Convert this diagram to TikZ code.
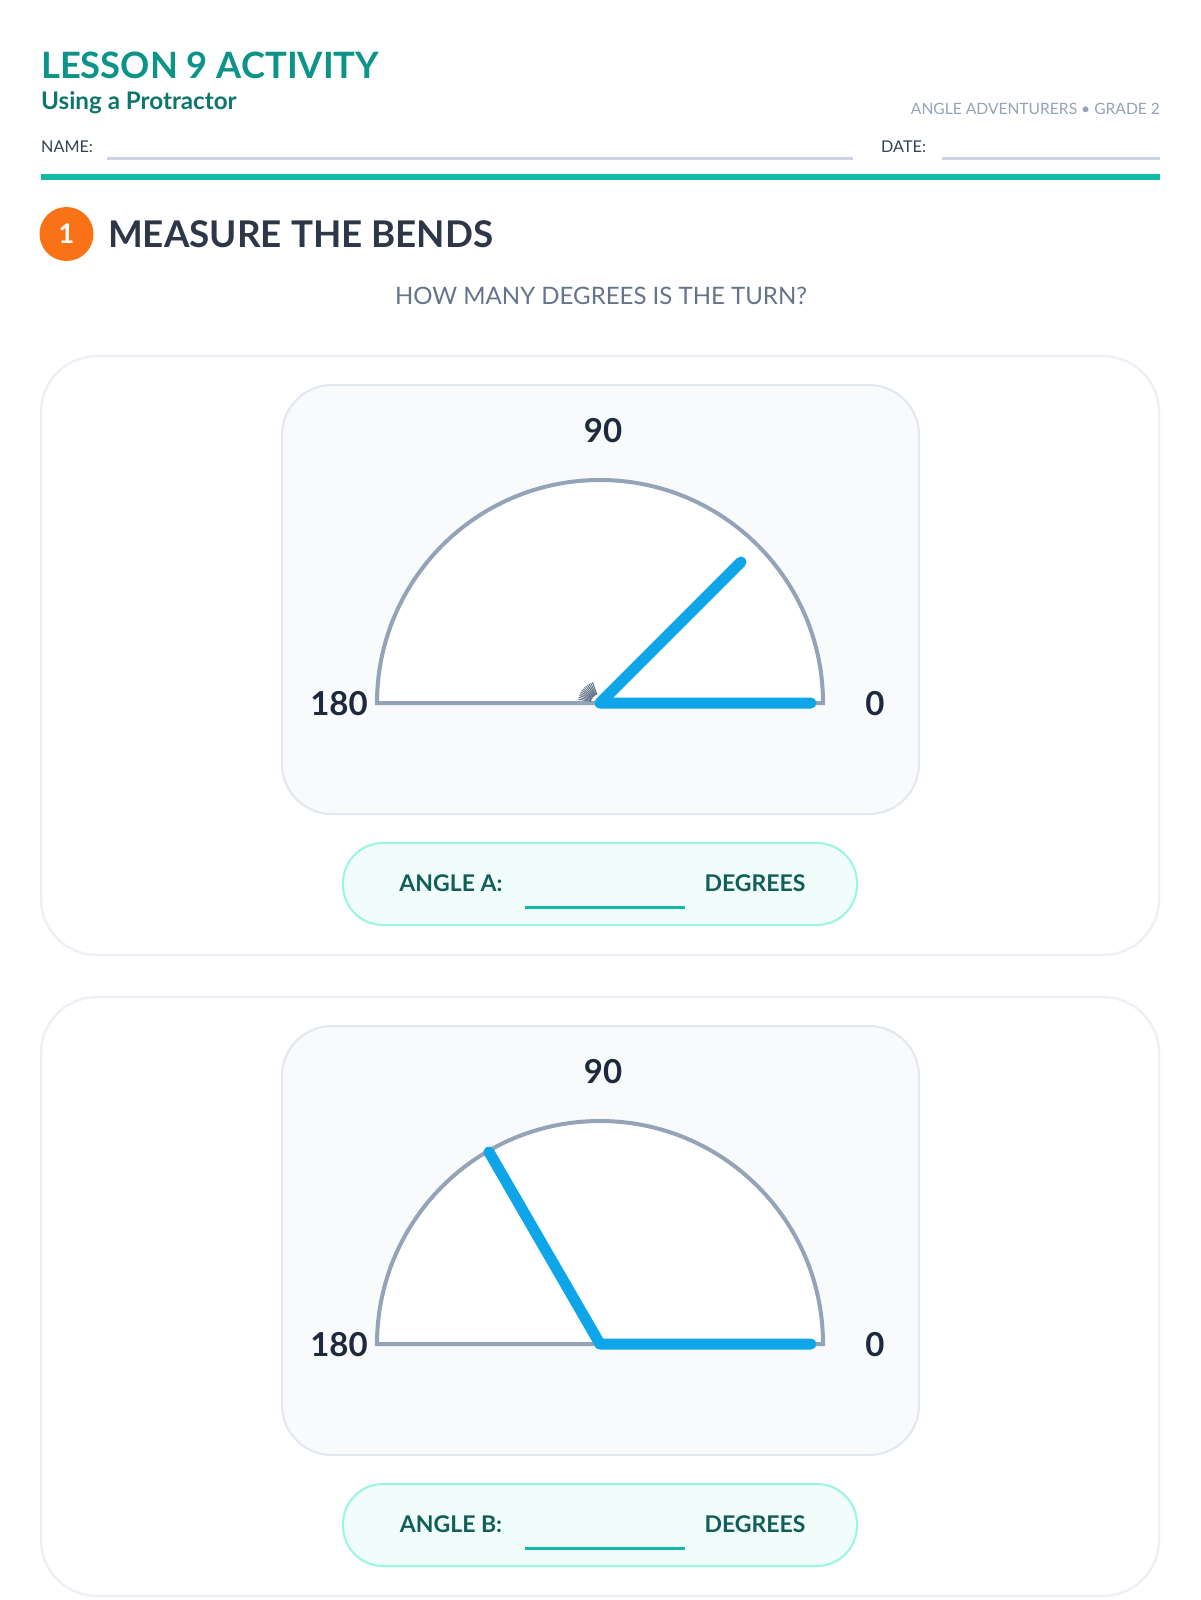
\documentclass[tikz,border=0pt]{standalone}
\usepackage{fontspec}
\setmainfont{Lato}
\definecolor{tealA}{HTML}{0D9488}
\definecolor{tealB}{HTML}{0F766E}
\definecolor{tealrule}{HTML}{14B8A6}
\definecolor{slateA}{HTML}{94A3B8}
\definecolor{slateB}{HTML}{334155}
\definecolor{slateC}{HTML}{64748B}
\definecolor{lineC}{HTML}{CBD5E1}
\definecolor{headD}{HTML}{2D3748}
\definecolor{numD}{HTML}{1E293B}
\definecolor{orangeA}{HTML}{F97316}
\definecolor{cardB}{HTML}{EDF1F6}
\definecolor{panelF}{HTML}{F8FAFC}
\definecolor{panelB}{HTML}{E2E8F0}
\definecolor{arcG}{HTML}{94A3B8}
\definecolor{armB}{HTML}{0EA5E9}
\definecolor{pillF}{HTML}{F0FDFA}
\definecolor{pillB}{HTML}{99F6E4}
\definecolor{pillT}{HTML}{115E59}
\definecolor{fanG}{HTML}{64748B}
\newcommand{\fs}[1]{\fontsize{#1}{#1}\selectfont}
\begin{document}
\begin{tikzpicture}[x=1pt,y=-1pt,
  card/.style={draw=cardB,line width=2.5,fill=white,rounded corners=56},
  panel/.style={draw=panelB,line width=2,fill=panelF,rounded corners=50},
  pill/.style={draw=pillB,line width=2,fill=pillF,rounded corners=40},
  protr/.style={draw=arcG,line width=4,fill=white},
  arm/.style={draw=armB,line width=11,line cap=round,line join=round},
  num/.style={font=\fs{33}\bfseries,text=numD,inner sep=0},
  pilltxt/.style={font=\fs{23}\bfseries,text=pillT,inner sep=0},
  blank/.style={draw=tealrule,line width=3},
  fan/.style={draw=fanG,line width=1}
]
\useasboundingbox (0,0) rectangle (1200,1600);
\fill[white] (0,0) rectangle (1200,1600);

% header
\node[anchor=base west,inner sep=0,font=\fs{36.3}\bfseries,text=tealA] (title) at (41,79) {LESSON 9 ACTIVITY};
\node[anchor=base west,inner sep=0,font=\fs{24.2}\bfseries,text=tealB] (subtitle) at (41,110) {Using a Protractor};
\node[anchor=base east,inner sep=0,font=\fs{15.6},text=slateA] (series) at (1160,114) {ANGLE ADVENTURERS • GRADE 2};
\node[anchor=base west,inner sep=0,font=\fs{16.2},text=slateB] (name) at (41,152) {NAME:};
\node[anchor=base west,inner sep=0,font=\fs{16.2},text=slateB] (date) at (881,152) {DATE:};
\coordinate (n1) at (107,158); \coordinate (n2) at (853,158);
\coordinate (d1) at (942,158); \coordinate (d2) at (1160,158);
\draw[lineC,line width=3] (n1) -- (n2);
\draw[lineC,line width=3] (d1) -- (d2);
\coordinate (r1) at (41,176.5); \coordinate (r2) at (1160,176.5);
\draw[tealrule,line width=6] (r1) -- (r2);

% section heading
\node[circle,fill=orangeA,minimum size=54,inner sep=0,font=\fs{27}\bfseries,text=white] (badge) at (66.5,234) {1};
\node[anchor=base west,inner sep=0,font=\fs{36.8}\bfseries,text=headD] (heading) at (108,247) {MEASURE THE BENDS};
\node[anchor=base,inner sep=0,font=\fs{24},text=slateC] (question) at (601,304) {HOW MANY DEGREES IS THE TURN?};

% ---------- card A ----------
\draw[card] (41,356) rectangle (1159,955);
\draw[panel] (282,385) rectangle (919,814);
\draw[protr] (377,703) arc[start angle=180,end angle=360,radius=223] -- cycle;
\foreach \a in {110,115,...,170} \draw[fan] (600,703) ++(-\a:9) -- ++(-\a:13);
\coordinate (ca) at (600,703);
\coordinate (ra) at (811,703);
\coordinate (ta) at (741,562);
\draw[arm] (ra) -- (ca) -- (ta);
\node[num] (a90) at (603,431) {90};
\node[num] (a180) at (339,704) {180};
\node[num] (a0) at (875,704) {0};
\draw[pill] (343,843) rectangle (857,925);
\node[pilltxt,anchor=base] (la) at (451,891) {ANGLE A:};
\node[pilltxt,anchor=base] (da) at (755,891) {DEGREES};
\coordinate (ba1) at (525,907); \coordinate (ba2) at (685,907);
\draw[blank] (ba1) -- (ba2);

% ---------- card B ----------
\draw[card] (41,997) rectangle (1159,1596);
\draw[panel] (282,1026) rectangle (919,1455);
\draw[protr] (377,1344) arc[start angle=180,end angle=360,radius=223] -- cycle;
\coordinate (cb) at (600,1344);
\coordinate (rb) at (811,1344);
\coordinate (tb) at (489,1152);
\draw[arm] (rb) -- (cb) -- (tb);
\node[num] (b90) at (603,1072) {90};
\node[num] (b180) at (339,1345) {180};
\node[num] (b0) at (875,1345) {0};
\draw[pill] (343,1484) rectangle (857,1566);
\node[pilltxt,anchor=base] (lb) at (451,1532) {ANGLE B:};
\node[pilltxt,anchor=base] (db) at (755,1532) {DEGREES};
\coordinate (bb1) at (525,1548); \coordinate (bb2) at (685,1548);
\draw[blank] (bb1) -- (bb2);
\end{tikzpicture}
\end{document}
